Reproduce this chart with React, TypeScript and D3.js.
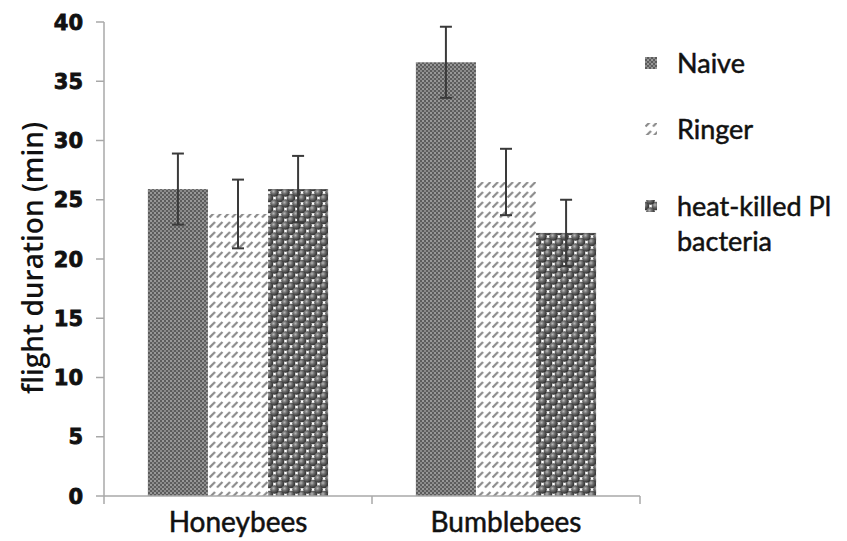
import { useEffect, useRef } from 'react';
import * as d3 from 'd3';

// groups on the x axis
const categories = ['Honeybees', 'Bumblebees'];
// treatments (legend order)
const series = ['Naive', 'Ringer', 'heat-killed Pl bacteria'];
// mean flight duration (min) per treatment, in category order
const naiveValues = [25.9, 36.6];
const ringerValues = [23.8, 26.5];
const heatKilledValues = [25.9, 22.2];
// error bar half-widths
const naiveErrors = [3.0, 3.0];
const ringerErrors = [2.9, 2.8];
const heatKilledErrors = [2.8, 2.8];
const yTicks = [0, 5, 10, 15, 20, 25, 30, 35, 40];

const W = 847;
const H = 541;

export default function App() {
  const ref = useRef<SVGSVGElement | null>(null);

  useEffect(() => {
    const svg = d3.select(ref.current);
    svg.selectAll('*').remove();

    const margin = { top: 22, left: 104, bottom: 45, right: 207 };
    const plotBottom = H - margin.bottom; // 496
    const plotRight = W - margin.right; // 640

    const values = [naiveValues, ringerValues, heatKilledValues];
    const errors = [naiveErrors, ringerErrors, heatKilledErrors];
    const patternIds = ['pat-naive', 'pat-ringer', 'pat-heat'];

    const x0 = d3.scaleBand().domain(categories).range([margin.left, plotRight]).padding(0);
    const x1 = d3
      .scaleBand()
      .domain(series)
      .range([0, x0.bandwidth()])
      .paddingInner(0)
      .paddingOuter(0.73);
    const y = d3.scaleLinear().domain([0, 40]).range([plotBottom, margin.top]);

    // fill patterns
    const defs = svg.append('defs');

    const pNaive = defs
      .append('pattern')
      .attr('id', 'pat-naive')
      .attr('patternUnits', 'userSpaceOnUse')
      .attr('width', 4)
      .attr('height', 4);
    pNaive.append('rect').attr('width', 4).attr('height', 4).attr('fill', '#8a8a8a');
    pNaive.append('rect').attr('x', 0).attr('y', 0).attr('width', 2).attr('height', 2).attr('fill', '#5c5c5c');
    pNaive.append('rect').attr('x', 2).attr('y', 2).attr('width', 2).attr('height', 2).attr('fill', '#5c5c5c');
    pNaive.append('rect').attr('x', 2.5).attr('y', 0.5).attr('width', 1).attr('height', 1).attr('fill', '#c4c4c4');

    const pRinger = defs
      .append('pattern')
      .attr('id', 'pat-ringer')
      .attr('patternUnits', 'userSpaceOnUse')
      .attr('width', 7.5)
      .attr('height', 10);
    pRinger.append('rect').attr('width', 7.5).attr('height', 10).attr('fill', '#ffffff');
    pRinger
      .append('line')
      .attr('x1', 0.5)
      .attr('y1', 7.5)
      .attr('x2', 6)
      .attr('y2', 2)
      .attr('stroke', '#8a8a8a')
      .attr('stroke-width', 2.2);

    const pHeat = defs
      .append('pattern')
      .attr('id', 'pat-heat')
      .attr('patternUnits', 'userSpaceOnUse')
      .attr('width', 11)
      .attr('height', 11);
    const grad = defs
      .append('radialGradient')
      .attr('id', 'ball')
      .attr('cx', '38%')
      .attr('cy', '38%')
      .attr('r', '62%');
    grad.append('stop').attr('offset', '0%').attr('stop-color', '#b8b8b8');
    grad.append('stop').attr('offset', '45%').attr('stop-color', '#6a6a6a');
    grad.append('stop').attr('offset', '100%').attr('stop-color', '#2e2e2e');
    pHeat.append('rect').attr('width', 11).attr('height', 11).attr('fill', '#ffffff');
    [
      [0, 0],
      [11, 0],
      [0, 11],
      [11, 11],
      [5.5, 5.5],
    ].forEach(([cx, cy]) => {
      pHeat.append('circle').attr('cx', cx).attr('cy', cy).attr('r', 4.3).attr('fill', 'url(#ball)');
    });

    // y axis title
    svg
      .append('text')
      .attr('transform', `translate(43,258) rotate(-90)`)
      .attr('text-anchor', 'middle')
      .attr('font-family', 'Open Sans')
      .attr('font-weight', 600)
      .attr('font-size', 28)
      .attr('fill', '#111')
      .text('flight duration (min)');

    // y axis
    const axisColor = '#a8a8a8';
    svg
      .append('line')
      .attr('x1', margin.left)
      .attr('x2', margin.left)
      .attr('y1', y(40))
      .attr('y2', plotBottom)
      .attr('stroke', axisColor)
      .attr('stroke-width', 1.5);
    const yt = svg.append('g');
    yTicks.forEach(t => {
      yt.append('line')
        .attr('x1', margin.left - 8)
        .attr('x2', margin.left)
        .attr('y1', y(t))
        .attr('y2', y(t))
        .attr('stroke', axisColor)
        .attr('stroke-width', 1.5);
      yt.append('text')
        .attr('x', 83)
        .attr('y', y(t))
        .attr('dy', '0.36em')
        .attr('text-anchor', 'end')
        .attr('font-family', 'DejaVu Sans')
        .attr('font-weight', 'bold')
        .attr('font-size', 21)
        .attr('fill', '#111')
        .attr('stroke', '#111')
        .attr('stroke-width', 0.8)
        .text(t);
    });

    // bars
    categories.forEach((cat, ci) => {
      const g = svg.append('g').attr('transform', `translate(${x0(cat)},0)`);
      series.forEach((s, si) => {
        const v = values[si][ci];
        g.append('rect')
          .attr('x', x1(s)!)
          .attr('y', y(v))
          .attr('width', x1.bandwidth())
          .attr('height', plotBottom - y(v))
          .attr('fill', `url(#${patternIds[si]})`);
      });
    });

    // x axis
    svg
      .append('line')
      .attr('x1', margin.left)
      .attr('x2', plotRight)
      .attr('y1', plotBottom)
      .attr('y2', plotBottom)
      .attr('stroke', axisColor)
      .attr('stroke-width', 1.5);
    const xEdges = [margin.left, ...categories.map(c => x0(c)! + x0.bandwidth())];
    xEdges.forEach(xe => {
      svg
        .append('line')
        .attr('x1', xe)
        .attr('x2', xe)
        .attr('y1', plotBottom)
        .attr('y2', plotBottom + 8)
        .attr('stroke', axisColor)
        .attr('stroke-width', 1.5);
    });
    categories.forEach(cat => {
      svg
        .append('text')
        .attr('x', x0(cat)! + x0.bandwidth() / 2)
        .attr('y', 532)
        .attr('text-anchor', 'middle')
        .attr('font-family', 'Lato')
        .attr('font-size', 28)
        .attr('fill', '#111')
        .attr('stroke', '#111')
        .attr('stroke-width', 0.5)
        .text(cat);
    });

    // error bars
    categories.forEach((cat, ci) => {
      series.forEach((s, si) => {
        const cx = x0(cat)! + x1(s)! + x1.bandwidth() / 2;
        const v = values[si][ci];
        const e = errors[si][ci];
        const eg = svg.append('g').attr('stroke', '#3a3a3a').attr('stroke-width', 2);
        eg.append('line').attr('x1', cx).attr('x2', cx).attr('y1', y(v + e)).attr('y2', y(v - e));
        eg.append('line').attr('x1', cx - 6).attr('x2', cx + 6).attr('y1', y(v + e)).attr('y2', y(v + e));
        eg.append('line').attr('x1', cx - 6).attr('x2', cx + 6).attr('y1', y(v - e)).attr('y2', y(v - e));
      });
    });

    // legend
    const legendY = [63, 129, 206];
    series.forEach((s, si) => {
      const lg = svg.append('g').attr('transform', `translate(645,${legendY[si]})`);
      lg.append('rect')
        .attr('x', 0)
        .attr('y', -6)
        .attr('width', 12)
        .attr('height', 12)
        .attr('fill', `url(#${patternIds[si]})`);
      const lines = s === 'heat-killed Pl bacteria' ? ['heat-killed Pl', 'bacteria'] : [s];
      lines.forEach((ln, li) => {
        lg.append('text')
          .attr('x', 32)
          .attr('y', li * 35)
          .attr('dy', '0.36em')
          .attr('font-family', 'Lato')
          .attr('font-size', 27)
          .attr('fill', '#111')
          .attr('stroke', '#111')
          .attr('stroke-width', 0.5)
          .text(ln);
      });
    });
  }, []);

  return (
    <svg
      ref={ref}
      width={W}
      height={H}
      style={{ position: 'absolute', left: 0, top: 0, background: '#fff' }}
    />
  );
}
